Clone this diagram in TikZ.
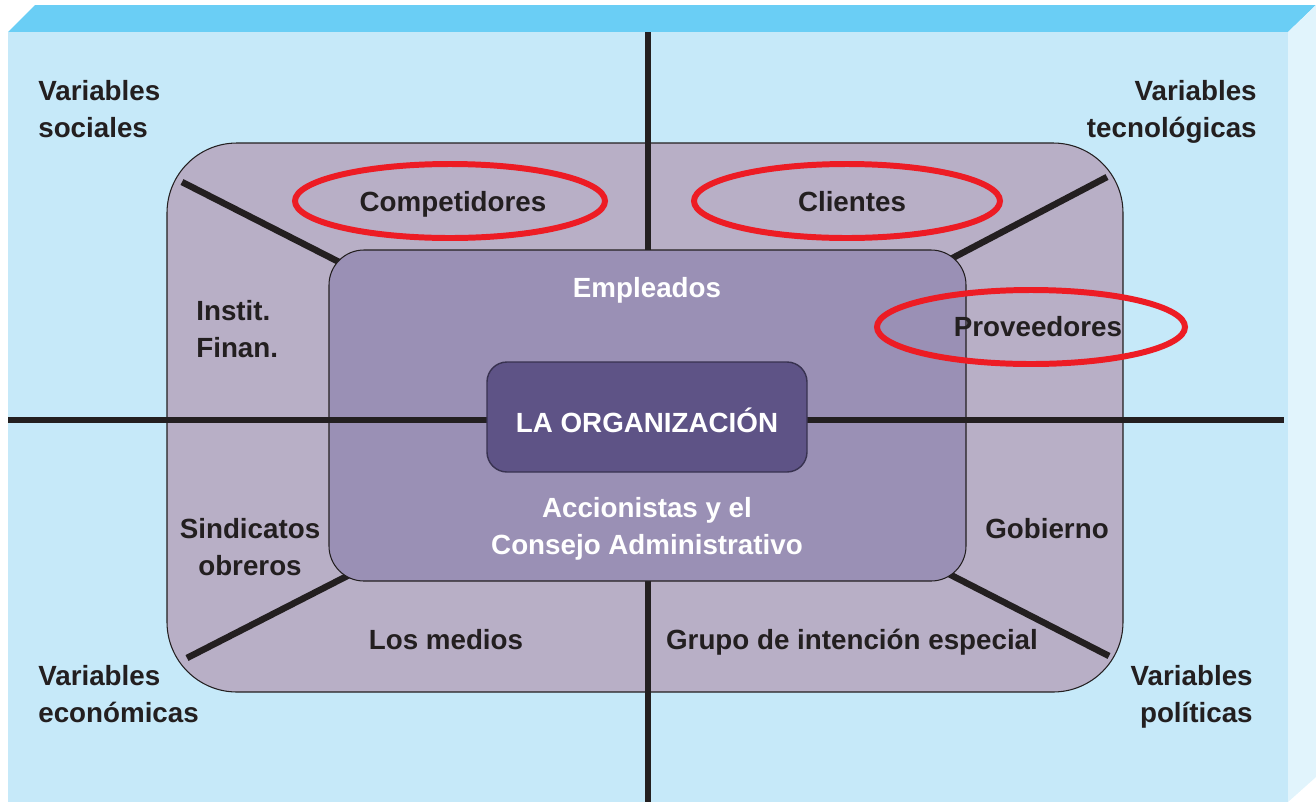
\documentclass[tikz,border=0pt]{standalone}
\usepackage{fontspec}
\setmainfont{Liberation Sans}
\usetikzlibrary{positioning}
\definecolor{cajafront}{HTML}{C6E9F9}
\definecolor{cajatop}{HTML}{6ACEF5}
\definecolor{cajaside}{HTML}{E1F4FC}
\definecolor{entorno}{HTML}{B8AFC6}
\definecolor{interno}{HTML}{9A90B5}
\definecolor{nucleo}{HTML}{5E5386}
\definecolor{tinta}{HTML}{231F20}
\definecolor{anillo}{HTML}{ED1C24}
\tikzset{
    lbl/.style={font=\bfseries\fontsize{15.8pt}{21pt}\selectfont, text=tinta, inner sep=0pt},
    lblw/.style={lbl, text=white},
    eje/.style={draw=tinta, line width=3.7pt},
    ring/.style={draw=anillo, line width=3.4pt},
  }
\begin{document}
\begin{tikzpicture}[x=0.02cm,y=-0.02cm]
				  \useasboundingbox (0,0) rectangle (1316,802);
				  %caja
				  \fill[cajatop] (8,32) -- (35,5) -- (1316,5) -- (1288,32) -- cycle;
				  \fill[cajaside] (1288,32) -- (1316,5) -- (1316,777) -- (1288,802) -- cycle;
				  \fill[cajafront] (8,32) rectangle (1288,802);
				  \coordinate (ejeN) at (648,32);
				  \coordinate (ejeS) at (648,802);
				  \coordinate (ejeO) at (8,420);
				  \coordinate (ejeE) at (1284,420);
				  \coordinate (diagNO) at (182,182);
				  \coordinate (diagNO') at (345,265);
				  \coordinate (diagNE) at (1107,177);
				  \coordinate (diagNE') at (945,262);
				  \coordinate (diagSO) at (187,658);
				  \coordinate (diagSO') at (355,572);
				  \coordinate (diagSE) at (1109,656);
				  \coordinate (diagSE') at (945,572);
				  %entorno
				  \filldraw[fill=entorno, draw=tinta, line width=0.6pt, rounded corners=1.4cm] (167,143) rectangle (1123,692);
				  \draw[eje] (ejeN) -- (ejeS);
				  \draw[eje] (diagNO) -- (diagNO');
				  \draw[eje] (diagNE) -- (diagNE');
				  \draw[eje] (diagSO) -- (diagSO');
				  \draw[eje] (diagSE) -- (diagSE');
				  \filldraw[fill=interno, draw=tinta, line width=0.6pt, rounded corners=0.7cm] (329,250) rectangle (966,581);
				  \draw[eje] (ejeO) -- (ejeE);
				  \filldraw[fill=nucleo, draw=nucleo!60!black, line width=0.8pt, rounded corners=0.4cm] (487,362) rectangle (807,472);
				  %anillos
				  \draw[ring] (450,201) ellipse [x radius=155, y radius=37];
				  \draw[ring] (847,201) ellipse [x radius=153, y radius=37];
				  \draw[ring] (1031,327) ellipse [x radius=154, y radius=37];
				  %textos (base = ultima linea)
				  \node[lbl, anchor=base west, align=left] (soc) at (38,137) {Variables\\sociales};
				  \node[lbl, anchor=base east, align=right] (tec) at (1257,137) {Variables\\tecnológicas};
				  \node[lbl, anchor=base west, align=left] (eco) at (38,722) {Variables\\económicas};
				  \node[lbl, anchor=base east, align=right] (pol) at (1253,722) {Variables\\políticas};
				  \node[lbl, anchor=base] (comp) at (453,211) {Competidores};
				  \node[lbl, anchor=base] (cli) at (852,211) {Clientes};
				  \node[lblw, anchor=base] (emp) at (647,297) {Empleados};
				  \node[lbl, anchor=base] (prov) at (1038,336) {Proveedores};
				  \node[lbl, anchor=base west, align=left] (fin) at (196,357) {Instit.\\Finan.};
				  \node[lblw, anchor=base] (org) at (647,432) {LA ORGANIZACIÓN};
				  \node[lblw, anchor=base, align=center] (acc) at (647,554) {Accionistas y el\\Consejo Administrativo};
				  \node[lbl, anchor=base, align=center] (sind) at (250,575) {Sindicatos\\obreros};
				  \node[lbl, anchor=base] (gob) at (1047,538) {Gobierno};
				  \node[lbl, anchor=base] (med) at (446,649) {Los medios};
				  \node[lbl, anchor=base] (grp) at (852,649) {Grupo de intención especial};
				  \end{tikzpicture}
\end{document}
